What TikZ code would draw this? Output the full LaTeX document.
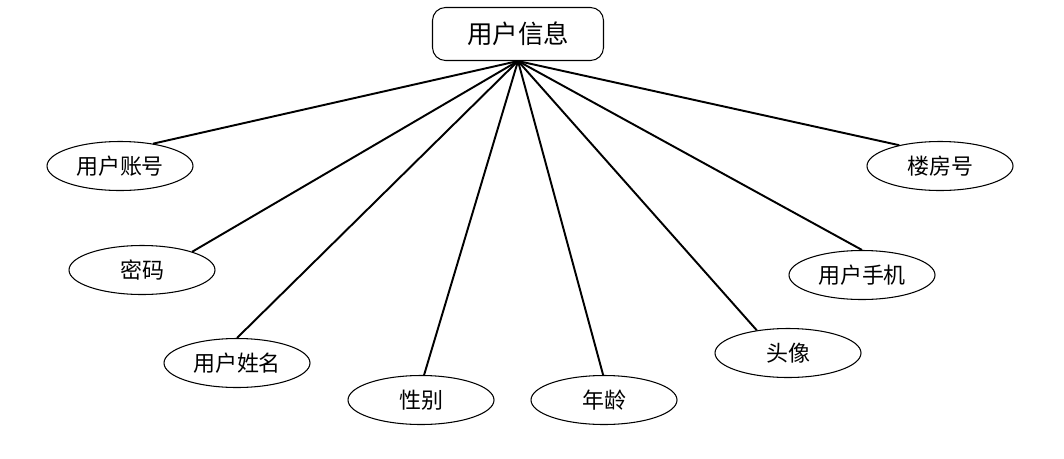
\documentclass[tikz,border=0pt]{standalone}
\usepackage{fontspec}
\usepackage{tikz}
\usetikzlibrary{shapes.geometric}
\newfontfamily\cjk{Noto Sans CJK SC}

\begin{document}
\begin{tikzpicture}[x=0.2mm,y=-0.2mm,
  attr/.style={ellipse, draw, line width=0.6pt, minimum width=29.2mm, minimum height=9.8mm, inner sep=0pt, font=\cjk\fontsize{12.5}{14}\selectfont},
  entity/.style={rectangle, rounded corners=2.6mm, draw, line width=0.6pt, minimum width=34.2mm, minimum height=10.6mm, font=\cjk\fontsize{14.5}{16}\selectfont},
  link/.style={line width=1.1pt}]
\useasboundingbox (0,0) rectangle (1064,458);
% Entity
\node[entity] (info) at (518,34) {用户信息};
% Attributes
\node[attr] (zhanghao) at (120,166) {用户账号};
\node[attr] (mima) at (142,270) {密码};
\node[attr] (xingming) at (237,363) {用户姓名};
\node[attr] (xingbie) at (421,400) {性别};
\node[attr] (nianling) at (604,400) {年龄};
\node[attr] (touxiang) at (788,353) {头像};
\node[attr] (shouji) at (862,275) {用户手机};
\node[attr] (loufang) at (940,166) {楼房号};
% Links
\draw[link] (info.south) -- (zhanghao.34);
\draw[link] (info.south) -- (mima.20);
\draw[link] (info.south) -- (xingming.90);
\draw[link] (info.south) -- (xingbie.83);
\draw[link] (info.south) -- (nianling.92);
\draw[link] (info.south) -- (touxiang.144);
\draw[link] (info.south) -- (shouji.90);
\draw[link] (info.south) -- (loufang.153);
\end{tikzpicture}
\end{document}
